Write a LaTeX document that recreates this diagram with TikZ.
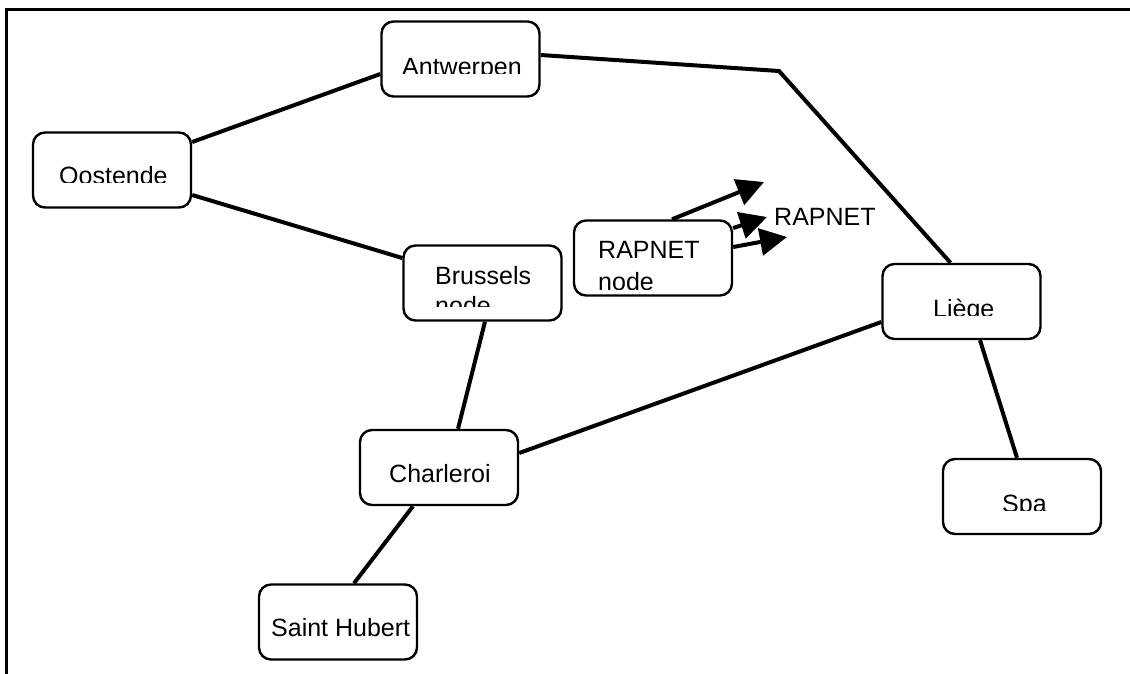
\documentclass[tikz,border=0pt]{standalone}
\usepackage{fontspec}
\setmainfont{Liberation Sans}
\usetikzlibrary{arrows.meta,calc}
% label placed inside a clipping rectangle (x1,y1,x2,y2)
\newcommand\townlabel[6]{%
  \begin{scope}
    \clip (#1,#2) rectangle (#3,#4);
    \node[lbl] at (#5) {#6};
  \end{scope}}
\begin{document}
\begin{tikzpicture}[x=1pt,y=-1pt,
  town/.style={draw,fill=white,line width=2.4pt,rounded corners=12pt,
    minimum width=158pt,minimum height=75pt,inner sep=0pt},
  lbl/.style={anchor=base west,inner sep=0pt,font=\fontsize{25}{29}\selectfont},
  road/.style={line width=4pt},
  frameline/.style={line width=3pt},
  link/.style={line width=4pt,-{Triangle[length=27pt,width=27pt]}}]
\useasboundingbox (0,0) rectangle (1130,673);

% page frame (left and top edges only)
\draw[frameline] (6,680) -- (6,9) -- (1136,9);

% bend and arrow end points
\coordinate (kink) at (779,71);
\coordinate (tipA) at (764,182);
\coordinate (tipB) at (767,217);
\coordinate (tipC) at (787,237);

\node[town] (oost)  at (112,170)    {};
\node[town] (antw)  at (460.5,59)   {};
\node[town] (bru)   at (482.5,283)  {};
\node[town] (rap)   at (653,258)    {};
\node[town] (char)  at (439,467.5)  {};
\node[town] (liege) at (961.5,301.5){};
\node[town] (spa)   at (1022,496.5) {};
\node[town] (sh)    at (338,622)    {};

% roads
\draw[road] ($(oost.east)+(0,-28)$) -- ($(antw.west)+(0,15)$);
\draw[road] ($(antw.east)+(0,-4)$) -- (kink) -- ($(liege.north)+(-11,0)$);
\draw[road] ($(oost.east)+(0,25)$) -- ($(bru.west)+(0,-25)$);
\draw[road] ($(bru.south)+(2.5,0)$) -- ($(char.north)+(19,0)$);
\draw[road] ($(char.east)+(0,-14.5)$) -- ($(liege.west)+(0,20.5)$);
\draw[road] ($(liege.south)+(18.5,0)$) -- ($(spa.north)+(-5,0)$);
\draw[road] ($(char.south)+(-26,0)$) -- ($(sh.north)+(16,0)$);

% RAPNET links
\draw[link] ($(rap.north)+(19,0)$) -- (tipA);
\draw[link] ($(rap.east)+(0,-30)$) -- (tipB);
\draw[link] ($(rap.east)+(0,-11)$) -- (tipC);
\node[lbl] (rapnet) at (774,225) {RAPNET};

% town names
\townlabel{33}{133}{191}{182}{59,184}{Oostende}
\townlabel{382}{21}{539}{73}{402,75}{Antwerpen}
\townlabel{403}{245}{562}{306}{435,284}{Brussels}
\townlabel{403}{245}{562}{306}{435,314}{node}
\townlabel{574}{220}{732}{289}{598,258}{RAPNET}
\townlabel{574}{220}{732}{289}{598,290}{node}
\townlabel{360}{430}{518}{505}{389,482}{Charleroi}
\townlabel{883}{264}{1040}{315}{933,317}{Liège}
\townlabel{943}{459}{1101}{510}{1002,512}{Spa}
\townlabel{259}{584}{417}{660}{271,636}{Saint Hubert}
\end{tikzpicture}
\end{document}
